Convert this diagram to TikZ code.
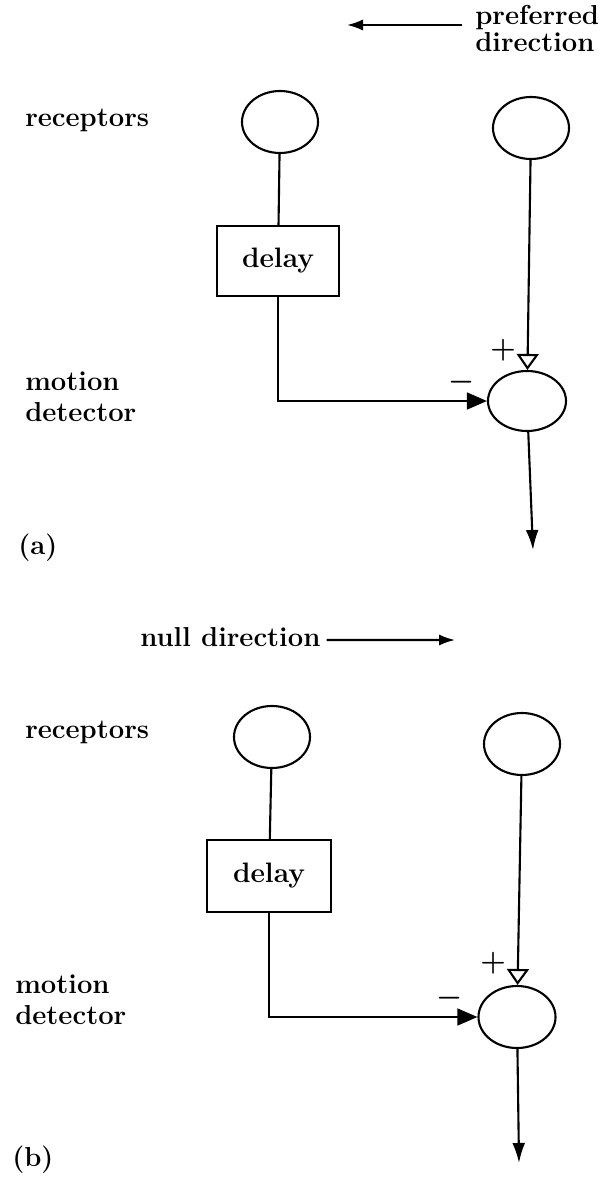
\documentclass[tikz,border=0pt]{standalone}
\usepackage{tikz}
\usetikzlibrary{arrows.meta,positioning,shapes.geometric}

\begin{document}
\begin{tikzpicture}[
  lbl/.style={font=\fontsize{19.5}{22}\selectfont\bfseries,align=left,inner sep=0pt},
  receptor/.style={draw,ellipse,line width=1.5pt,minimum width=1.9cm,minimum height=1.55cm,inner sep=0pt},
  detector/.style={draw,ellipse,line width=1.5pt,minimum width=1.95cm,minimum height=1.5cm,inner sep=0pt},
  delaybox/.style={draw,line width=1.5pt,minimum width=3.05cm,minimum height=1.75cm,font=\fontsize{20}{22}\selectfont\bfseries},
  wire/.style={line width=1.5pt},
  inhibit/.style={wire,-{Triangle[length=5mm,width=4.2mm]}},
  excite/.style={wire,-{Triangle[open,length=4mm,width=5.5mm,line width=1.5pt]}},
  outarrow/.style={wire,-{Latex[length=5mm,width=3.2mm]}},
  sign/.style={font=\fontsize{22}{22}\selectfont\boldmath,inner sep=0pt},
]
  \useasboundingbox (0,0) rectangle (15.25,-29.475);
  \clip (0,0) rectangle (15.25,-29.475);

  % (a) preferred direction
  \node[lbl,anchor=base west] (pref) at (11.875,-1.3) {direction};
  \node[lbl,anchor=base west] (prefup) at (11.875,-0.62) {preferred};
  \coordinate (prefs) at (11.55,-0.625);
  \coordinate (prefe) at (8.675,-0.625);
  \draw[wire,-{Latex[length=4mm,width=2.8mm]}] (prefs) -- (prefe);

  \node[lbl,anchor=west] (reca) at (0.625,-3.0) {receptors};
  \node[lbl,anchor=west] (mda) at (0.625,-9.925) {motion\\detector};
  \node[lbl,anchor=west] (taga) at (0.45,-13.7) {(a)};

  \node[receptor] (recLa) at (7.0,-3.05) {};
  \node[receptor] (recRa) at (13.275,-3.2) {};
  \node[delaybox] (dela) at (6.95,-6.525) {delay};
  \node[detector] (deta) at (13.175,-10.025) {};
  \coordinate (outa) at (13.325,-13.75);
  \node[sign] (plusa) at (12.575,-8.75) {$+$};
  \node[sign] (minusa) at (11.55,-9.55) {$-$};

  \draw[wire] (recLa) -- (dela);
  \draw[inhibit] (dela.south) |- (deta.west);
  \draw[excite] (recRa) -- (deta);
  \draw[outarrow] (deta) -- (outa);

  % (b) null direction
  \node[lbl,anchor=west] (null) at (3.5,-15.925) {null direction};
  \coordinate (nulle) at (11.375,-16.0);
  \draw[wire,-{Latex[length=4mm,width=2.8mm]}] (null.east) ++(0.15,-0.075) coordinate (nulls) -- (nulle);

  \node[lbl,anchor=west] (recb) at (0.625,-18.3) {receptors};
  \node[lbl,anchor=west] (mdb) at (0.375,-25.0) {motion\\detector};
  \node[lbl,anchor=west] (tagb) at (0.3,-29.0) {(b)};

  \node[receptor] (recLb) at (6.8,-18.425) {};
  \node[receptor] (recRb) at (13.05,-18.6) {};
  \node[delaybox,minimum width=3.1cm,minimum height=1.8cm] (delb) at (6.725,-21.9) {delay};
  \node[detector,minimum width=1.925cm,minimum height=1.55cm] (detb) at (12.925,-25.425) {};
  \coordinate (outb) at (12.975,-29.075);
  \node[sign] (plusb) at (12.325,-24.075) {$+$};
  \node[sign] (minusb) at (11.25,-24.95) {$-$};

  \draw[wire] (recLb) -- (delb);
  \draw[inhibit] (delb.south) |- (detb.west);
  \draw[excite] (recRb) -- (detb);
  \draw[outarrow] (detb) -- (outb);
\end{tikzpicture}
\end{document}
